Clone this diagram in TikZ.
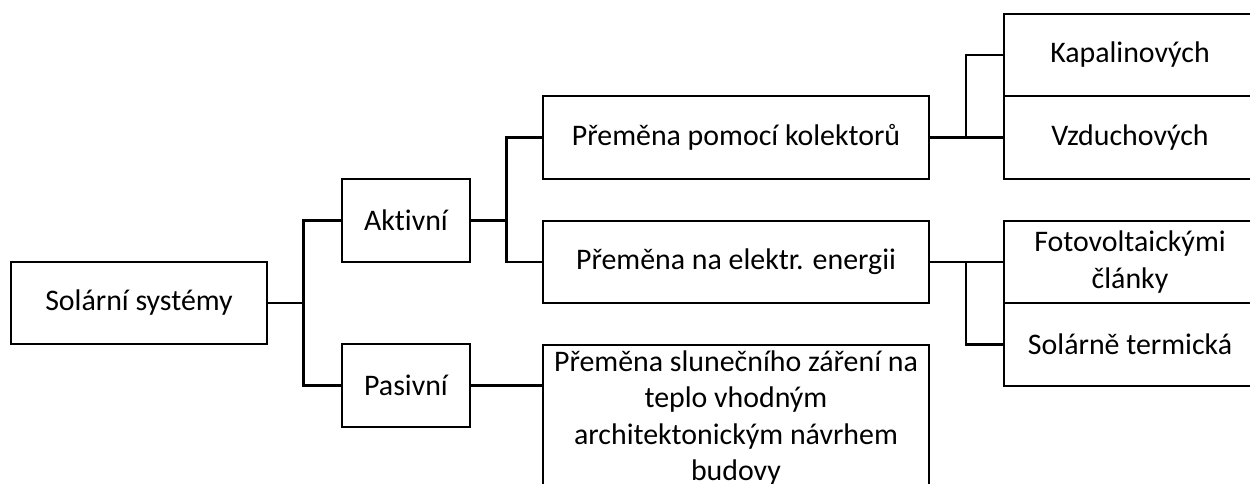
\documentclass[tikz,border=0pt]{standalone}
\usepackage{fontspec}
\setmainfont{Carlito}[Ligatures={NoCommon}]
\usetikzlibrary{calc}
\begin{document}
\begin{tikzpicture}[
    every node/.style={font=\fontsize{17}{20.8}\selectfont},
    box/.style={rectangle,draw,line width=1.2pt,inner sep=0pt,outer sep=0pt,minimum height=1.65cm,align=center},
    link/.style={line width=1.2pt}]
            \useasboundingbox (0,0) rectangle (25,-9.68);
            \node(sol)[box,minimum width=5.12cm] at (2.78,-6.06){Solární systémy};
            \node(akt)[box,minimum width=2.56cm] at (8.12,-4.41){Aktivní};
            \node(pas)[box,minimum width=2.56cm] at (8.12,-7.71){Pasivní};
            \node(kol)[box,minimum width=7.72cm] at (14.72,-2.75){Přeměna pomocí kolektorů};
            \node(ele)[box,minimum width=7.72cm] at (14.72,-5.24){Přeměna na elektr. energii};
            \node(slun)[box,minimum width=7.72cm,minimum height=2.92cm,anchor=north] at (14.72,-6.9){Přeměna slunečního záření na\\teplo vhodným\\architektonickým návrhem\\budovy};
            \node(kap)[box,minimum width=5.04cm] at (22.6,-1.10){Kapalinových};
            \node(vzd)[box,minimum width=5.04cm] at (22.6,-2.75){Vzduchových};
            \node(fot)[box,minimum width=5.04cm] at (22.6,-5.24){Fotovoltaickými\\články};
            \node(sot)[box,minimum width=5.04cm] at (22.6,-6.89){Solárně termická};
            \draw[link] (sol.east) -- ++(0.73,0) coordinate(j1) |- (akt.west);
            \draw[link] (j1) |- (pas.west);
            \draw[link] (akt.east) -- ++(0.73,0) coordinate(j2) |- (kol.west);
            \draw[link] (j2) |- (ele.west);
            \draw[link] (pas.east) -- (pas.east -| slun.west);
            \draw[link] (kol.east) -- (vzd.west);
            \draw[link] (kol.east) ++(0.74,0) |- (kap.west);
            \draw[link] (ele.east) -- (fot.west);
            \draw[link] (ele.east) ++(0.74,0) |- (sot.west);
        \end{tikzpicture}
\end{document}
